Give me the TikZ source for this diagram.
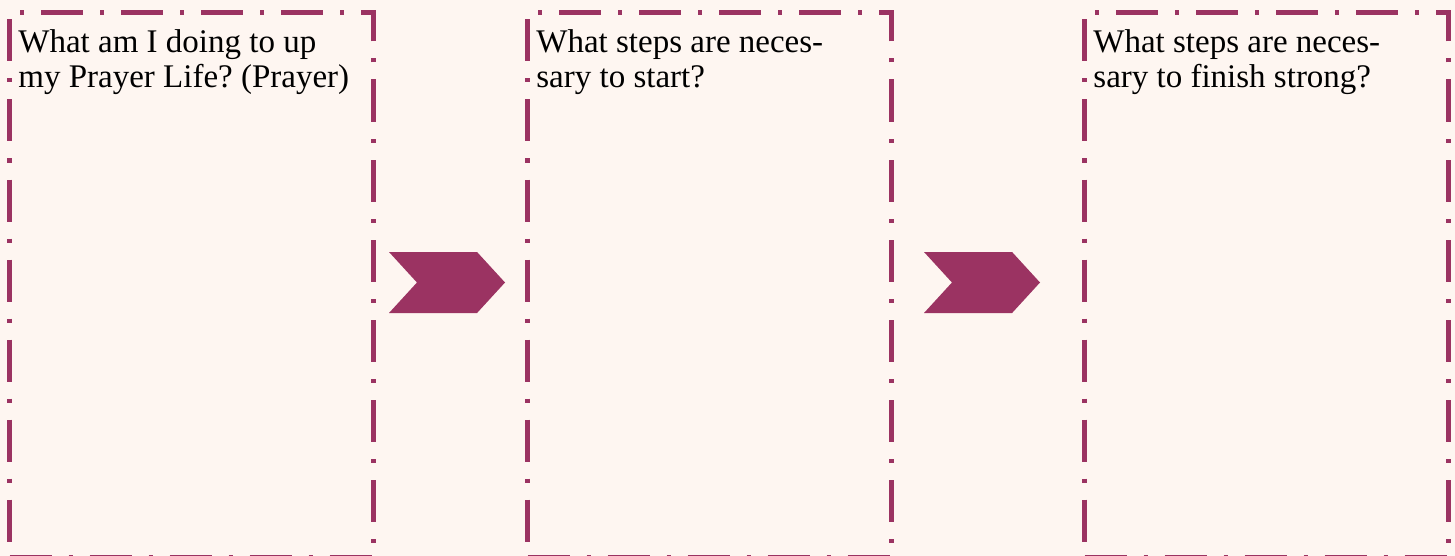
\documentclass[tikz,border=0pt]{standalone}
\usepackage{fontspec}
\setmainfont{Liberation Serif}
\frenchspacing
\usepackage{xcolor}
\usetikzlibrary{positioning, shapes.symbols}
\definecolor{berry}{RGB}{155,51,98}
\definecolor{peach}{RGB}{254,246,241}

\begin{document}
\begin{tikzpicture}[
  x=0.5pt, y=-0.5pt,
  stepbox/.style={draw=berry, line width=2.5pt, dash pattern=on 21pt off 8.5pt on 2pt off 8.5pt, minimum width=182pt, minimum height=272.5pt, inner sep=0pt, anchor=north west},
  question/.style={anchor=base west, inner sep=0pt, align=left, font=\fontsize{16.5pt}{17.8pt}\selectfont},
  chevron/.style={shape=signal, signal from=west, signal to=east, signal pointer angle=95, fill=berry, inner sep=0pt, minimum width=58pt, minimum height=30.5pt}
]
  \fill[peach] (0,0) rectangle (1455,556);
  \useasboundingbox (0,0) rectangle (1455,556);

  % the three boxes
  \node[stepbox] (prayer) at (7,10) {};
  \node[stepbox] (start) at (525,10) {};
  \node[stepbox] (finish) at (1082,10) {};

  % questions, base is the second line
  \node[question] (prayer-q) at ([shift={(5.5pt,-39pt)}]prayer.north west) {What am I doing to up\\my Prayer Life? (Prayer)};
  \node[question] (start-q) at ([shift={(5.5pt,-39pt)}]start.north west) {What steps are neces-\\sary to start?};
  \node[question] (finish-q) at ([shift={(5.5pt,-39pt)}]finish.north west) {What steps are neces-\\sary to finish strong?};

  % chevrons between them
  \node[chevron] (arrow1) at (447,282.5) {};
  \node[chevron] (arrow2) at (982,282.5) {};
\end{tikzpicture}
\end{document}
